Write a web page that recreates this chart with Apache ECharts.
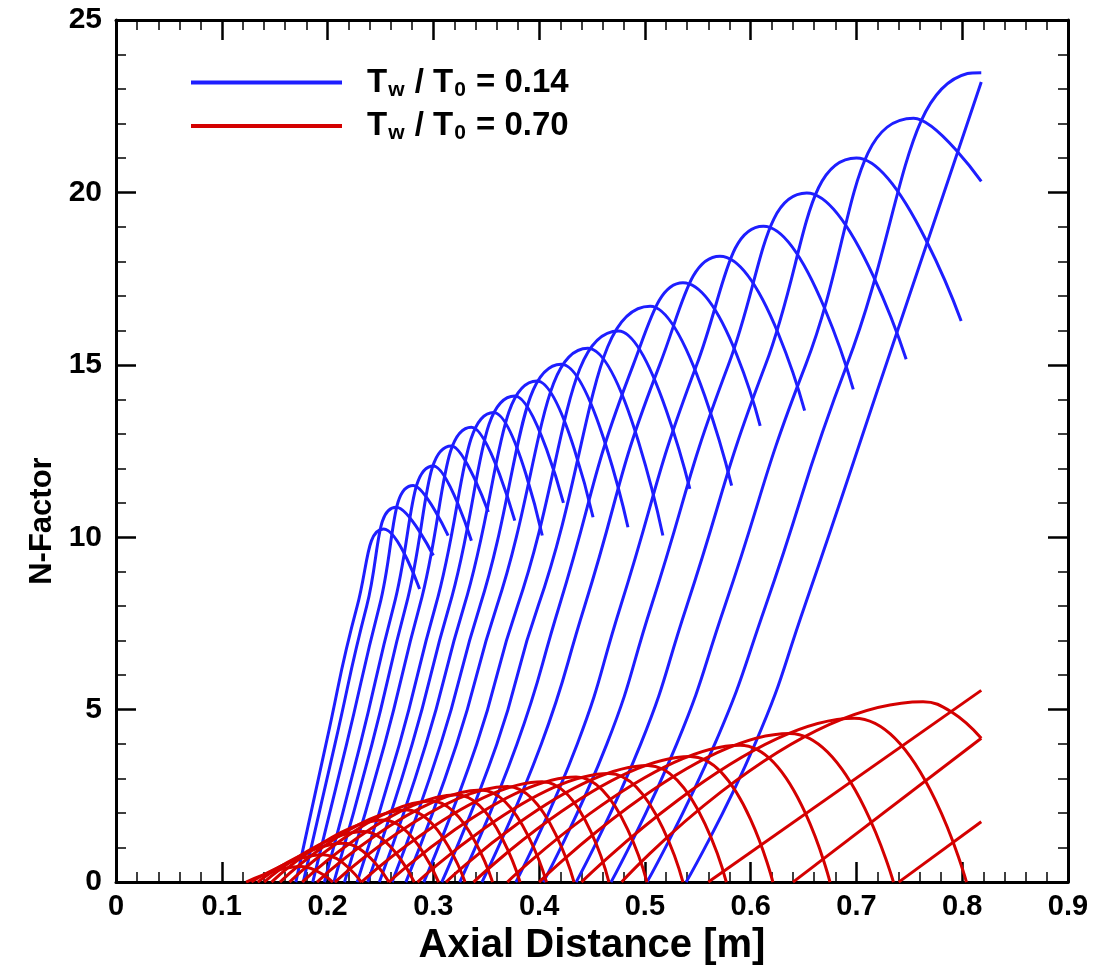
<!DOCTYPE html>
<html><head><meta charset="utf-8">
<script src="https://cdn.jsdelivr.net/npm/echarts@6/dist/echarts.min.js"></script>
<style>html,body{margin:0;padding:0;background:#fff}#c{width:1094px;height:971px}</style>
</head><body><div id="c"></div>
<script>
// ---- Blue family: Tw/T0 = 0.14 (one entry per curve) ----
const blueStartX = [0.170,0.177,0.186,0.197,0.206,0.216,0.228,0.238,0.249,0.261,0.274,0.291,0.308,0.325,0.346,0.378,0.404,0.435,0.468,0.502,0.539];
const blueX4     = [0.1985,0.207,0.218,0.231,0.242,0.254,0.268,0.280,0.293,0.307,0.322,0.341,0.360,0.379,0.402,0.436,0.464,0.496,0.530,0.566,0.604]; // x at N=4
const blueX8     = [0.228,0.237,0.249,0.2625,0.274,0.287,0.302,0.315,0.329,0.344,0.360,0.3795,0.399,0.419,0.443,0.477,0.506,0.5395,0.5755,0.614,0.651]; // x at N=8
const blueX15    = [null,null,null,null,null,null,null,null,null,null,null,null,null,0.489,0.514,0.549,0.579,0.614,0.652,0.691,0.728]; // x at N=15
const bluePeakX  = [0.253,0.265,0.281,0.300,0.317,0.336,0.357,0.377,0.398,0.421,0.446,0.475,0.505,0.536,0.571,0.612,0.653,0.700,0.754,0.805,null];
const bluePeakN  = [10.24,10.87,11.50,12.07,12.65,13.19,13.62,14.10,14.53,15.02,15.48,15.98,16.70,17.38,18.15,19.02,19.98,21.00,22.15,23.45,null];
const blueEndX   = [0.287,0.300,0.314,0.336,0.352,0.377,0.403,0.423,0.451,0.484,0.517,0.5425,0.582,0.609,0.651,0.697,0.747,0.799,0.818,0.818,0.818];
const blueEndN   = [8.50,9.47,10.05,9.90,10.73,10.48,10.05,11.00,10.58,10.29,10.05,11.40,11.50,13.23,13.67,14.29,15.16,16.27,20.32,23.47,23.20];

// ---- Red family: Tw/T0 = 0.70 ----
const redStartX = [0.123,0.128,0.134,0.140,0.147,0.155,0.164,0.176,0.190,0.207,0.232,0.258,0.285,0.312,0.338,0.370,0.400,0.440,0.478,0.560,0.640,0.740];
const redPeakX  = [0.175,0.196,0.215,0.234,0.253,0.275,0.298,0.322,0.345,0.370,0.403,0.435,0.466,0.503,0.543,0.590,0.637,0.698,0.763,null,null,null];
const redPeakN  = [0.45,0.79,1.13,1.47,1.80,2.09,2.35,2.53,2.67,2.77,2.91,3.05,3.15,3.38,3.64,3.97,4.31,4.75,5.23,null,null,null];
const redFallX  = [null,null,null,null,null,null,null,null,null,null,null,null,null,null,null,null,null,null,0.790,null,null,null];
const redFallN  = [null,null,null,null,null,null,null,null,null,null,null,null,null,null,null,null,null,null,4.93,null,null,null];
const redEndX   = [0.205,0.232,0.258,0.282,0.305,0.330,0.356,0.382,0.407,0.433,0.466,0.502,0.536,0.577,0.621,0.675,0.735,0.804,0.818,0.818,0.818,0.818];
const redEndN   = [0,0,0,0,0,0,0,0,0,0,0,0,0,0,0,0,0,0,4.17,5.56,4.17,1.75];

const xTickValues = [0,0.1,0.2,0.3,0.4,0.5,0.6,0.7,0.8,0.9];
const yTickValues = [0,5,10,15,20,25];

const BLUE = '#1e1eff', RED = '#d40000';
const FONT = '"Liberation Sans", Arial, Helvetica, sans-serif';

function bluePoints(i){
  const p = [[blueStartX[i],0],[blueX4[i],4],[blueX8[i],8]];
  if (blueX15[i] !== null) p.push([blueX15[i],15]);
  if (bluePeakX[i] !== null) p.push([bluePeakX[i],bluePeakN[i]]);
  p.push([blueEndX[i],blueEndN[i]]);
  return p;
}
function redPoints(i){
  const p = [[redStartX[i],0]];
  if (redPeakX[i] !== null) p.push([redPeakX[i],redPeakN[i]]);
  if (redFallX[i] !== null) p.push([redFallX[i],redFallN[i]]);
  p.push([redEndX[i],redEndN[i]]);
  return p;
}

const series = [];
for (let i=0;i<blueStartX.length;i++){
  series.push({type:'line',name:'blue',data:bluePoints(i),smooth:0.5,showSymbol:false,silent:true,
    lineStyle:{color:BLUE,width:3},itemStyle:{color:BLUE},z:2});
}
for (let i=0;i<redStartX.length;i++){
  series.push({type:'line',name:'red',data:redPoints(i),smooth:0.45,showSymbol:false,silent:true,
    lineStyle:{color:RED,width:3},itemStyle:{color:RED},z:3});
}

const axisLineStyle = {show:true,onZero:false,lineStyle:{color:'#000',width:3}};
const tickMajor = {show:true,inside:true,length:20,lineStyle:{color:'#000',width:2.5}};
const xMinor = {show:true,splitNumber:5,length:10,lineStyle:{color:'#000',width:1.5}};
const yMinor = {show:true,splitNumber:5,length:10,lineStyle:{color:'#000',width:1.5}};

const chart = echarts.init(document.getElementById('c'),null,{renderer:'canvas'});
chart.setOption({
  animation:false,
  backgroundColor:'#fff',
  grid:{left:116,right:26,top:20,bottom:87,containLabel:false},
  legend:{
    show:true,orient:'vertical',left:186,top:61,itemWidth:151,itemHeight:4,itemGap:9,
    icon:'rect',selectedMode:false,
    data:[{name:'blue',itemStyle:{color:BLUE}},{name:'red',itemStyle:{color:RED}}],
    formatter:function(n){ return n==='blue' ? '{a|T}{s|w}{a| / T}{s|0}{a| = 0.14}' : '{a|T}{s|w}{a| / T}{s|0}{a| = 0.70}'; },
    textStyle:{padding:[0,0,0,20],rich:{
      a:{fontFamily:FONT,fontWeight:'bold',fontSize:33,color:'#000',lineHeight:36,verticalAlign:'middle'},
      s:{fontFamily:FONT,fontWeight:'bold',fontSize:21,color:'#000',lineHeight:36,verticalAlign:'bottom',padding:[0,1,0,1]}
    }}
  },
  xAxis:[
    {type:'value',position:'bottom',min:0,max:0.9,interval:0.1,
     axisLine:axisLineStyle,axisTick:tickMajor,minorTick:xMinor,splitLine:{show:false},minorSplitLine:{show:false},
     axisLabel:{show:true,color:'#000',fontFamily:FONT,fontWeight:'bold',fontSize:29,margin:10,
       formatter:function(v){ const m = xTickValues.find(t=>Math.abs(t-v)<1e-9); return m===undefined?'':String(m); }},
     name:'Axial Distance [m]',nameLocation:'middle',nameGap:40,
     nameTextStyle:{color:'#000',fontFamily:FONT,fontWeight:'bold',fontSize:40}},
    {type:'value',position:'top',min:0,max:0.9,interval:0.1,
     axisLine:axisLineStyle,axisTick:tickMajor,minorTick:xMinor,splitLine:{show:false},axisLabel:{show:false}}
  ],
  yAxis:[
    {type:'value',position:'left',min:0,max:25,interval:5,
     axisLine:axisLineStyle,axisTick:tickMajor,minorTick:yMinor,splitLine:{show:false},minorSplitLine:{show:false},
     axisLabel:{show:true,color:'#000',fontFamily:FONT,fontWeight:'bold',fontSize:30,margin:14,
       formatter:function(v){ const m = yTickValues.find(t=>Math.abs(t-v)<1e-9); return m===undefined?'':String(m); }},
     name:'N-Factor',nameLocation:'middle',nameGap:56,nameRotate:90,
     nameTextStyle:{color:'#000',fontFamily:FONT,fontWeight:'bold',fontSize:31,padding:[0,140,0,0]}},
    {type:'value',position:'right',min:0,max:25,interval:5,
     axisLine:axisLineStyle,axisTick:tickMajor,minorTick:yMinor,splitLine:{show:false},axisLabel:{show:false}}
  ],
  series:series
});
</script></body></html>
